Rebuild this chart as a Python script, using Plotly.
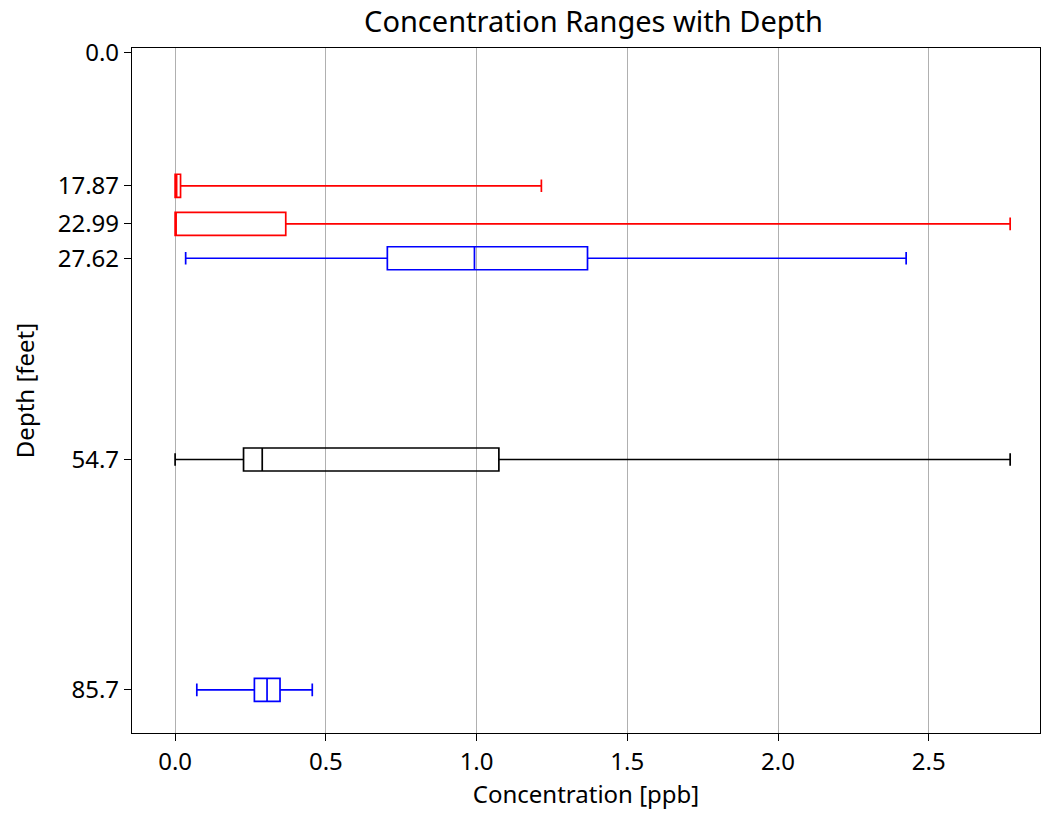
import plotly.graph_objects as go

# Data
depths = [17.87, 22.99, 27.62, 54.7, 85.7]
colors = ["#ff0000", "#ff0000", "#0000ff", "#000000", "#0000ff"]
lower_whisker = [0.0, 0.0, 0.035, 0.0, 0.072]
q1_vals = [0.0, 0.0, 0.704, 0.227, 0.263]
median_vals = [0.005, 0.0, 0.993, 0.289, 0.305]
q3_vals = [0.018, 0.367, 1.368, 1.074, 0.348]
upper_whisker = [1.215, 2.77, 2.425, 2.77, 0.455]
ytick_vals = [0.0, 17.87, 22.99, 27.62, 54.7, 85.7]
ytick_text = ["0.0", "17.87", "22.99", "27.62", "54.7", "85.7"]
xtick_vals = [0.0, 0.5, 1.0, 1.5, 2.0, 2.5]
xtick_text = ["0.0", "0.5", "1.0", "1.5", "2.0", "2.5"]

FONT = "Noto Sans"

fig = go.Figure()
for d, c, lo, a, m, b, hi in zip(depths, colors, lower_whisker, q1_vals,
                                 median_vals, q3_vals, upper_whisker):
    fig.add_trace(go.Box(
        y=[d], orientation="h",
        q1=[a], median=[m], q3=[b], lowerfence=[lo], upperfence=[hi],
        width=3.1, whiskerwidth=0.55,
        line=dict(color=c, width=1.7),
        fillcolor="rgba(0,0,0,0)",
        boxpoints=False, showlegend=False,
    ))

fig.update_layout(
    width=1042, height=813,
    margin=dict(l=132, r=2, t=48, b=80),
    plot_bgcolor="white", paper_bgcolor="white",
    font=dict(family=FONT, size=24, color="black"),
    title=dict(text="Concentration Ranges with Depth", x=0.5696, xanchor="center",
               y=0.973, yanchor="middle", font=dict(family=FONT, size=29)),
    showlegend=False,
)
fig.update_xaxes(
    range=[-0.143, 2.869],
    tickvals=xtick_vals, ticktext=xtick_text,
    tickfont=dict(size=24),
    showgrid=True, gridcolor="#b0b0b0", gridwidth=1,
    zeroline=False, automargin=False,
    showline=True, linecolor="black", linewidth=1.2, mirror=True,
    ticks="outside", ticklen=7, tickcolor="black",
    title=dict(text="Concentration [ppb]", standoff=6, font=dict(size=24)),
)
fig.update_yaxes(
    range=[91.5, -0.67],
    tickvals=ytick_vals, ticktext=ytick_text,
    tickfont=dict(size=24),
    showgrid=False, zeroline=False, automargin=False,
    showline=True, linecolor="black", linewidth=1.2, mirror=True,
    ticks="outside", ticklen=7, tickcolor="black",
    title=dict(text="Depth [feet]", standoff=16, font=dict(size=24)),
)

fig.write_html("out.html")
